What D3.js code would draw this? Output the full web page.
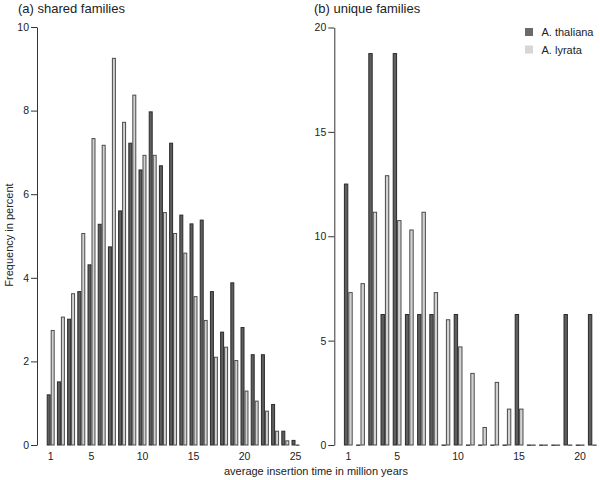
<!DOCTYPE html>
<html>
<head>
<meta charset="utf-8">
<script src="https://cdn.jsdelivr.net/npm/d3@7"></script>
<style>
  body { margin: 0; background: #fff; }
  svg { display: block; font-family: "Liberation Sans", Arial, sans-serif; }
</style>
</head>
<body>
<svg id="chart" width="600" height="480"></svg>
<script>
// ---- data ----
const seriesNames = ["A. thaliana", "A. lyrata"];
const sharedCategories = d3.range(1, 26);
const sharedThaliana = [1.2, 1.51, 3.01, 3.67, 4.31, 5.28, 4.74, 5.6, 7.22, 6.58, 7.97, 6.68, 7.22, 5.5, 5.29, 5.38, 3.67, 2.7, 3.88, 2.81, 2.16, 2.16, 0.97, 0.33, 0.11];
const sharedLyrata   = [2.74, 3.06, 3.62, 5.06, 7.33, 7.17, 9.25, 7.72, 8.37, 6.93, 6.93, 5.56, 5.06, 4.59, 3.55, 2.98, 2.1, 2.34, 2.02, 1.29, 1.05, 0.81, 0.33, 0.1, 0];
const uniqueCategories = d3.range(1, 22);
const uniqueThaliana = [12.5, 0, 18.75, 6.25, 18.75, 6.25, 6.25, 6.25, 0, 6.25, 0, 0, 0, 0, 6.25, 0, 0, 0, 6.25, 0, 6.25];
const uniqueLyrata   = [7.3, 7.73, 11.15, 12.9, 10.75, 10.3, 11.15, 7.3, 6.0, 4.7, 3.43, 0.84, 3.0, 1.72, 1.72, 0, 0, 0, 0, 0, 0];
const sharedYTicks = [0, 2, 4, 6, 8, 10];
const uniqueYTicks = [0, 5, 10, 15, 20];
const sharedXTicks = [1, 5, 10, 15, 20, 25];
const uniqueXTicks = [1, 5, 10, 15, 20];

const fills = ["#5e5e5e", "#d2d2d2"];
const strokes = ["#2b2b2b", "#4a4a4a"];
const legendFills = ["#6a6a6a", "#d6d6d6"];

const svg = d3.select("#chart");
const textColor = "#222";

function panel(opts) {
  const { cats, a, b, yMax, yTicks, xTicks, xRange, axisX, y0, y1, pad, title, titleX } = opts;
  const x = d3.scaleBand().domain(cats).range(xRange).paddingInner(pad).paddingOuter(pad / 2);
  const xs = d3.scaleBand().domain([0, 1]).range([0, x.bandwidth()]);
  const y = d3.scaleLinear().domain([0, yMax]).range([y0, y1]);
  const g = svg.append("g");

  const rows = cats.map((c, i) => ({ c, v: [a[i], b[i]] }));
  const grp = g.selectAll("g.cat").data(rows).join("g")
    .attr("transform", d => `translate(${x(d.c)},0)`);
  grp.selectAll("rect").data(d => d.v.map((v, k) => ({ v, k }))).join("rect")
    .attr("x", d => xs(d.k) + 0.5)
    .attr("width", xs.bandwidth() - 1)
    .attr("y", d => y(d.v))
    .attr("height", d => Math.max(y(0) - y(d.v), 0.3))
    .attr("fill", d => fills[d.k])
    .attr("stroke", d => strokes[d.k])
    .attr("stroke-width", 1);

  const ya = d3.axisLeft(y).tickValues(yTicks).tickSize(6).tickSizeOuter(0).tickPadding(2);
  const yg = g.append("g").attr("transform", `translate(${axisX},0)`).call(ya);
  yg.select(".domain").attr("stroke", "#333");
  yg.selectAll(".tick line").attr("stroke", "#333");
  yg.selectAll("text").attr("font-size", 10.5).attr("fill", textColor).attr("font-family", "Liberation Sans, Arial, sans-serif");

  const xa = d3.axisBottom(x).tickValues(xTicks).tickSize(0).tickPadding(8);
  const xg = g.append("g").attr("transform", `translate(0,${y0})`).call(xa);
  xg.select(".domain").remove();
  xg.selectAll("text").attr("font-size", 10.5).attr("fill", textColor).attr("font-family", "Liberation Sans, Arial, sans-serif");

  g.append("text").attr("x", titleX).attr("y", 13).attr("font-size", 13).attr("fill", textColor).text(title);
}

panel({ cats: sharedCategories, a: sharedThaliana, b: sharedLyrata, yMax: 10, yTicks: sharedYTicks, xTicks: sharedXTicks,
  xRange: [45.6, 300.6], axisX: 37, y0: 445, y1: 27, pad: 0.22, title: "(a) shared families", titleX: 18 });
panel({ cats: uniqueCategories, a: uniqueThaliana, b: uniqueLyrata, yMax: 20, yTicks: uniqueYTicks, xTicks: uniqueXTicks,
  xRange: [342.2, 598.4], axisX: 334.3, y0: 445, y1: 27.5, pad: 0.28, title: "(b) unique families", titleX: 314 });

// axis titles
svg.append("text").attr("transform", "translate(13,235) rotate(-90)").attr("text-anchor", "middle")
  .attr("font-size", 11).attr("fill", textColor).text("Frequency in percent");
svg.append("text").attr("x", 316).attr("y", 475).attr("text-anchor", "middle")
  .attr("font-size", 11).attr("fill", textColor).text("average insertion time in million years");

// legend
const lg = svg.append("g").attr("transform", "translate(525,28)");
seriesNames.forEach((n, i) => {
  lg.append("rect").attr("x", 0).attr("y", i * 17.5).attr("width", 8).attr("height", 8).attr("fill", legendFills[i]);
  lg.append("text").attr("x", 16.5).attr("y", i * 17.5 + 8.3).attr("font-size", 11).attr("fill", textColor).text(n);
});
</script>
</body>
</html>
